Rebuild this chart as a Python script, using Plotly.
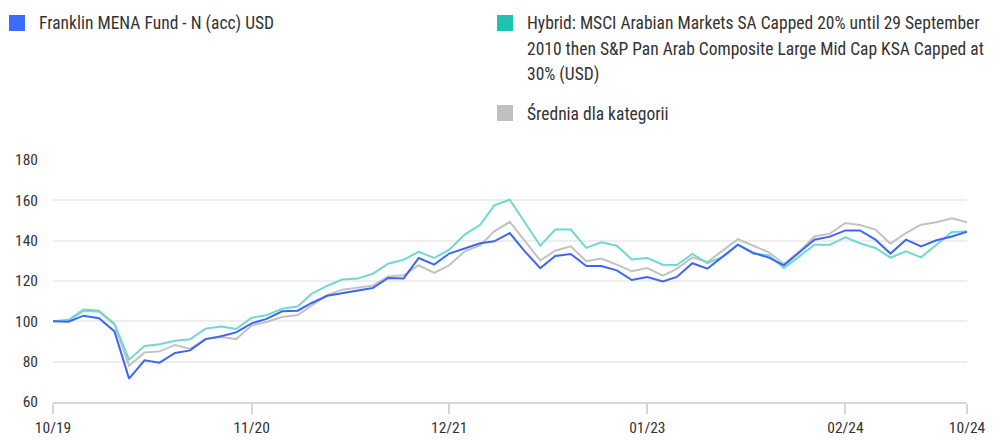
import pandas as pd
import plotly.graph_objects as go

start_month = "2019-10-01"
n_months = 61

fund = [100, 99.8, 102.8, 101.5, 95, 71.6, 80.7, 79.5, 84.3, 85.6,
        91.2, 92.6, 94.5, 99, 101.2, 105, 105.3, 109.1, 112.7, 113.9,
        115.4, 116.5, 121.5, 121.3, 131.4, 128.1, 133.6, 136.2, 138.7, 139.7,
        143.8, 134.7, 126.4, 132.4, 133.4, 127.4, 127.4, 125.3, 120.5, 122,
        119.8, 122, 128.8, 126.1, 132.2, 138, 133.9, 131.6, 127.8, 134.2,
        140.5, 142, 145.1, 145.1, 140.5, 133.6, 140.5, 137.2, 140.2, 142.1,
        144.5]

bench = [100, 100.8, 105.8, 105.3, 98.8, 81, 87.8, 88.6, 90.4, 91.1,
         96.4, 97.4, 96.2, 101.8, 103, 106.3, 107.3, 113.7, 117.6, 120.7,
         121.2, 123.6, 128.6, 130.6, 134.5, 131.4, 135.5, 143, 147.9, 157.5,
         160.3, 149.1, 137.5, 145.5, 145.5, 136.4, 139.2, 137.5, 130.7, 131.4,
         128.1, 127.9, 133.4, 128.9, 131.9, 138, 133.6, 132.7, 126.4, 132.2,
         138, 138, 141.7, 138.7, 136.4, 131.6, 134.7, 131.7, 138, 144.3,
         144.6]

category = [100, 100.3, 105.1, 104.8, 98.3, 78, 84.6, 85.1, 88.3, 86.4,
            91.2, 92.2, 91.2, 97.9, 99.7, 102.1, 103.1, 107.8, 113, 115.7,
            116.9, 117.7, 122.3, 122.8, 127.8, 124, 127.8, 134.7, 137.7, 144.6,
            149.3, 139.7, 130.2, 135, 137.2, 129.8, 131.1, 128.1, 124.8, 126.4,
            122.6, 126, 131.7, 129.4, 135, 140.7, 137.5, 134.2, 128.4, 134.7,
            142.1, 143.5, 148.8, 147.8, 145.5, 138.5, 143.8, 147.9, 149.1, 151.1,
            149.1]

tick_dates = ["2019-10-01", "2020-11-01", "2021-12-01", "2023-01-01", "2024-02-01", "2024-10-01"]
tick_labels = ["10/19", "11/20", "12/21", "01/23", "02/24", "10/24"]
y_ticks = [60, 80, 100, 120, 140, 160, 180]

legend_names = [
    "Franklin MENA Fund - N (acc) USD",
    "Hybrid: MSCI Arabian Markets SA Capped 20% until 29 September 2010 then S&P Pan Arab Composite Large Mid Cap KSA Capped at 30% (USD)",
    "Średnia dla kategorii",
]

dates = pd.date_range(start_month, periods=n_months, freq="MS")

FONT = "Roboto Condensed, Roboto, sans-serif"
FS_TICK = 15.5
FS_LEG = 17.5
OFF = 8  # page body margin
W, H = 995, 440
L, R, T, B = 53, 28, 160, 38   # screen pixel positions of the plot box
PW, PH = W - L - R, H - T - B

fig = go.Figure()
fig.add_trace(go.Scatter(x=dates, y=category, mode="lines", name=legend_names[2],
                         line=dict(color="#c2c2c2", width=2)))
fig.add_trace(go.Scatter(x=dates, y=bench, mode="lines", name=legend_names[1],
                         line=dict(color="#6fd8cf", width=2)))
fig.add_trace(go.Scatter(x=dates, y=fund, mode="lines", name=legend_names[0],
                         line=dict(color="#3d66f6", width=2)))


def px_x(p):
    return (p - L) / PW


def px_y(p):
    return (H - B - p) / PH


legend_items = [
    (9, 23, "#3d6bff", [legend_names[0]]),
    (497, 23, "#1ec3b2", ["Hybrid: MSCI Arabian Markets SA Capped 20% until 29 September",
                          "2010 then S&P Pan Arab Composite Large Mid Cap KSA Capped at",
                          "30% (USD)"]),
    (497, 113, "#c0c0c0", [legend_names[2]]),
]
shapes = []
annotations = []
for x0, yc, col, lines in legend_items:
    shapes.append(dict(type="rect", xref="paper", yref="paper",
                       x0=px_x(x0), x1=px_x(x0 + 16), y0=px_y(yc - 8), y1=px_y(yc + 8),
                       fillcolor=col, line=dict(width=0)))
    for k, txt in enumerate(lines):
        annotations.append(dict(xref="paper", yref="paper", x=px_x(x0 + 28), y=px_y(yc + 26 * k),
                                xanchor="left", yanchor="middle", showarrow=False,
                                text=txt, font=dict(family=FONT, size=FS_LEG, color="#333333")))

fig.update_layout(
    width=W - OFF, height=H - OFF,
    autosize=False,
    margin=dict(l=L - OFF, r=R, t=T - OFF, b=B, pad=0, autoexpand=False),
    paper_bgcolor="white", plot_bgcolor="white",
    showlegend=False,
    font=dict(family=FONT, size=FS_TICK, color="#333333"),
    shapes=shapes, annotations=annotations,
    xaxis=dict(range=[dates[0], dates[-1]], tickvals=tick_dates, ticktext=tick_labels,
               showgrid=False, showline=True, linecolor="#d6d6d6", linewidth=2,
               ticks="outside", ticklen=10, tickwidth=2, tickcolor="#d6d6d6",
               zeroline=False, automargin=False,
               tickfont=dict(family=FONT, size=FS_TICK, color="#333333")),
    yaxis=dict(range=[60, 180], tickvals=y_ticks, showgrid=True, gridcolor="#eeeeee",
               gridwidth=2, zeroline=False, showline=False, ticks="", ticklabelstandoff=14,
               automargin=False,
               tickfont=dict(family=FONT, size=FS_TICK, color="#333333")),
)

fig.write_html("out.html")
